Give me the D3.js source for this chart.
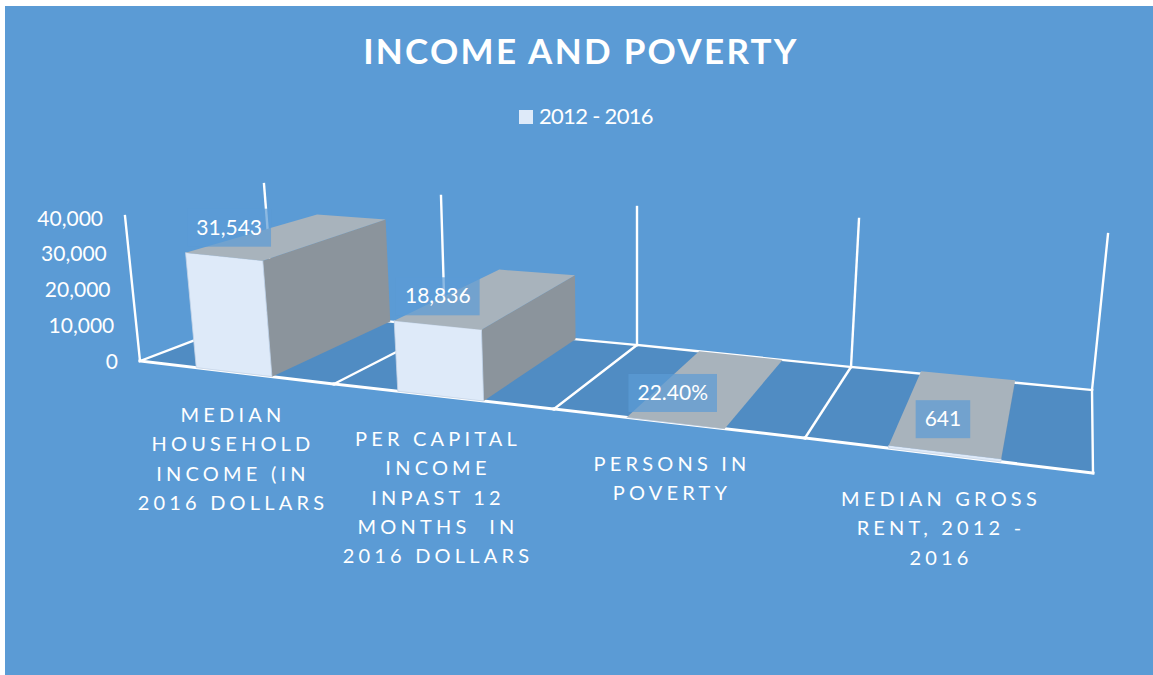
<!DOCTYPE html>
<html><head><meta charset="utf-8">
<style>html,body{margin:0;padding:0;background:#fff;overflow:hidden}svg{display:block}text{font-family:Lato,"Open Sans",sans-serif;fill:#fff}</style>
<script src="https://cdnjs.cloudflare.com/ajax/libs/d3/7.8.5/d3.min.js"></script>
</head><body><svg id="c" width="1153" height="675"></svg>
<script>
const title = "INCOME AND POVERTY";
const legendLabel = "2012 - 2016";
const categories = ["Median household income","Per capita income","Persons in poverty","Median gross rent"];
const categoryLines = [
  ["MEDIAN","HOUSEHOLD","INCOME (IN","2016 DOLLARS"],
  ["PER CAPITAL","INCOME","INPAST 12","MONTHS  IN","2016 DOLLARS"],
  ["PERSONS IN","POVERTY"],
  ["MEDIAN GROSS","RENT, 2012 -","2016"]
];
const values = [31543, 18836, 22.4, 641];
const valueLabels = ["31,543","18,836","22.40%","641"];
const valueTicks = [0,10000,20000,30000,40000];

// layout of the perspective box
const slots = [0,1,2,3,4];
const frontX = d3.scaleLinear().domain(slots).range([140,334,554,805,1093]);
const backX  = d3.scaleLinear().domain(slots).range([274,445,637,851,1092]);
const frontY = d3.scaleLinear().domain(slots).range([361,384,409,438,473]);
const backY  = d3.scaleLinear().domain(slots).range([310,327,345,367,390]);
const frontH = d3.scaleLinear().domain(slots).range([145,148,153,165,185]);
const backH  = d3.scaleLinear().domain(slots).range([126,131,138,148,156]);
const frontLean = d3.scaleLinear().domain(slots).range([-15,-10,-2,10,22]);
const backLean  = d3.scaleLinear().domain(slots).range([-10,-4,0,8,16]);
const band = d3.scaleBand().domain(categories).range([-0.015,3.985]).paddingInner(0.61).paddingOuter(0.305);
const hScale = d3.scaleLinear().domain([0,40000]).range([0,1]);
const tickY = d3.scaleLinear().domain([0,40000]).range([361,218]);

// u: slot position, d: depth 0 front..1 back, v: value
function P(u,d,v){
  const x = frontX(u)+(backX(u)-frontX(u))*d, y = frontY(u)+(backY(u)-frontY(u))*d;
  const H = frontH(u)+(backH(u)-frontH(u))*d, L = frontLean(u)+(backLean(u)-frontLean(u))*d;
  const t = hScale(v);
  return [x+L*t, y-H*t];
}
const poly = pts => pts.map(p=>p.join(",")).join(" ");

const svg = d3.select("#c");
svg.append("rect").attr("x",5).attr("y",6).attr("width",1148).attr("height",669).attr("fill","#5B9BD5");

// title, legend
svg.append("text").attr("x",581).attr("y",64).attr("text-anchor","middle")
  .attr("font-size",35).attr("font-weight",700).attr("letter-spacing",2.3).text(title);
svg.append("rect").attr("x",519).attr("y",110).attr("width",14).attr("height",14).attr("fill","#DEEAF9");
svg.append("text").attr("x",539).attr("y",124).attr("font-size",22).attr("letter-spacing",-0.7).text(legendLabel);

// floor
svg.append("polygon").attr("fill","#508CC3")
  .attr("points",poly([P(0,0,0),P(4,0,0),P(4,1,0),...[3,2,1,0].map(u=>P(u,1,0))]));
const wire = {stroke:"#fff","stroke-width":2.4,fill:"none","stroke-linecap":"square"};
function seg(a,b,w){
  const l = svg.append("line").attr("x1",a[0]).attr("y1",a[1]).attr("x2",b[0]).attr("y2",b[1]);
  Object.entries(wire).forEach(([k,val])=>l.attr(k,val));
  if(w) l.attr("stroke-width",w);
}
slots.forEach(u=>{
  seg(P(u,0,0),P(u,1,0));
  seg(P(u,1,0),P(u,1,40000));
  if(u<4) seg(P(u,1,0),P(u+1,1,0));
});
seg(P(0,0,0),P(0,0,40000));
slots.slice(0,-1).forEach(u=>seg(P(u,0,0),P(u+1,0,0),3));

// bars
categories.forEach((c,i)=>{
  const a = band(c), b = a+band.bandwidth(), v = values[i];
  const g = svg.append("g");
  g.append("polygon").attr("fill","#8B949C").attr("points",poly([P(b,0,0),P(b,1,0),P(b,1,v),P(b,0,v)]));
  g.append("polygon").attr("fill","#DEEAF9").attr("stroke","#C4D3E6").attr("stroke-width",.8).attr("points",poly([P(a,0,0),P(b,0,0),P(b,0,v),P(a,0,v)]));
  g.append("polygon").attr("fill","#A8B3BC").attr("points",poly([P(a,0,v),P(b,0,v),P(b,1,v),P(a,1,v)]));
});

// value labels
const labelNudge = [[5,-29],[0,-29],[-3,-30],[-2,-33]];
valueLabels.forEach((t,i)=>{
  const c = categories[i], m = band(c)+band.bandwidth()/2, p = P(m,0,values[i]);
  const cx = p[0]+labelNudge[i][0], cy = p[1]+labelNudge[i][1];
  const r = svg.append("rect").attr("fill","#5B9BD5").attr("fill-opacity",.7);
  const tx = svg.append("text").attr("x",cx).attr("y",cy+7).attr("text-anchor","middle").attr("font-size",21).text(t);
  const w = tx.node().getComputedTextLength()+18;
  r.attr("x",cx-w/2).attr("y",cy-19).attr("width",w).attr("height",38);
});

// value axis
valueTicks.forEach(v=>{
  const p = P(0,0,v);
  svg.append("text").attr("x",p[0]-22).attr("y",tickY(v)+7.5).attr("text-anchor","end").attr("font-size",21)
    .text(d3.format(",")(v));
});

// category labels
const catAnchor = [[233,422],[438,446],[672,471],[941,506]];
categoryLines.forEach((lines,i)=>{
  lines.forEach((s,j)=>{
    svg.append("text").attr("x",catAnchor[i][0]).attr("y",catAnchor[i][1]+j*29.3)
      .attr("text-anchor","middle").attr("font-size",20).attr("letter-spacing",4.2)
      .style("white-space","pre").text(s);
  });
});
</script></body></html>
